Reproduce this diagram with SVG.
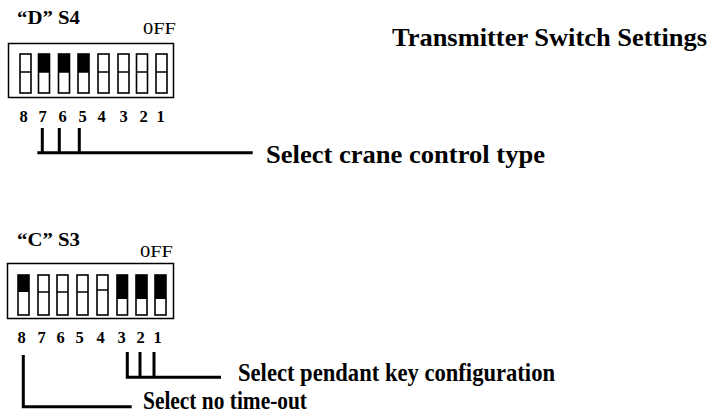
<svg xmlns="http://www.w3.org/2000/svg" width="709" height="418" viewBox="0 0 709 418">
<style>
.bg{fill:#fff}
.box{fill:#fff;stroke:#000;stroke-width:1.5}
.sw{fill:#fff;stroke:#000;stroke-width:1.6}
.dv{stroke:#000;stroke-width:1.5}
.on{fill:#000}
.t{font-family:"Liberation Serif","Times New Roman",serif;fill:#000}
.b{font-weight:bold}
.lbl{font-family:"Liberation Serif","Times New Roman",serif;font-weight:bold;font-size:16.5px;fill:#000}
.br{fill:none;stroke:#000;stroke-width:3}
</style>
<rect class="bg" x="0" y="0" width="709" height="418"/>
<text class="t b" x="392" y="46" font-size="26" textLength="315" lengthAdjust="spacingAndGlyphs">Transmitter Switch Settings</text>

<g id="switch-d-s4">
  <text class="t b" x="17" y="24" font-size="18" textLength="63" lengthAdjust="spacingAndGlyphs">“D” S4</text>
  <text class="t" x="143" y="34" font-size="17" textLength="33" lengthAdjust="spacingAndGlyphs">0FF</text>
  <rect class="box" x="8.5" y="43.5" width="165" height="54"/>
  <g>
    <rect class="sw" x="20" y="54" width="11" height="39"/><line class="dv" x1="20" y1="72" x2="31" y2="72"/>
    <rect class="sw" x="38.5" y="54" width="11" height="39"/><rect class="on" x="38.5" y="54" width="11" height="18"/><line class="dv" x1="38.5" y1="72" x2="49.5" y2="72"/>
    <rect class="sw" x="58.5" y="54" width="11" height="39"/><rect class="on" x="58.5" y="54" width="11" height="18"/><line class="dv" x1="58.5" y1="72" x2="69.5" y2="72"/>
    <rect class="sw" x="78" y="54" width="11" height="39"/><rect class="on" x="78" y="54" width="11" height="18"/><line class="dv" x1="78" y1="72" x2="89" y2="72"/>
    <rect class="sw" x="98" y="54" width="11" height="39"/><line class="dv" x1="98" y1="72" x2="109" y2="72"/>
    <rect class="sw" x="118" y="54" width="11" height="39"/><line class="dv" x1="118" y1="72" x2="129" y2="72"/>
    <rect class="sw" x="136.5" y="54" width="11" height="39"/><line class="dv" x1="136.5" y1="72" x2="147.5" y2="72"/>
    <rect class="sw" x="156" y="54" width="11" height="39"/><line class="dv" x1="156" y1="72" x2="167" y2="72"/>
  </g>
  <text class="lbl" x="19.5" y="122">8</text>
  <text class="lbl" x="38.5" y="122">7</text>
  <text class="lbl" x="58.5" y="122">6</text>
  <text class="lbl" x="78.5" y="122">5</text>
  <text class="lbl" x="97.5" y="122">4</text>
  <text class="lbl" x="119.5" y="122">3</text>
  <text class="lbl" x="139.5" y="122">2</text>
  <text class="lbl" x="156.5" y="122">1</text>
</g>

<g id="label-crane">
  <text class="t b" x="266" y="163" font-size="26" textLength="279" lengthAdjust="spacingAndGlyphs">Select crane control type</text>
</g>

<g id="switch-c-s3">
  <text class="t b" x="17" y="246" font-size="18" textLength="63" lengthAdjust="spacingAndGlyphs">“C” S3</text>
  <text class="t" x="140" y="257" font-size="17" textLength="33" lengthAdjust="spacingAndGlyphs">0FF</text>
  <rect class="box" x="7.5" y="263.5" width="166" height="55"/>
  <g>
    <rect class="sw" x="18" y="275" width="11" height="40"/><rect class="on" x="18" y="275" width="11" height="17"/>
    <rect class="sw" x="38" y="275" width="11" height="40"/><line class="dv" x1="38" y1="292" x2="49" y2="292"/>
    <rect class="sw" x="57" y="275" width="11" height="40"/><line class="dv" x1="57" y1="292" x2="68" y2="292"/>
    <rect class="sw" x="77" y="275" width="11" height="40"/><line class="dv" x1="77" y1="292" x2="88" y2="292"/>
    <rect class="sw" x="97" y="275" width="11" height="40"/><line class="dv" x1="97" y1="290" x2="108" y2="290"/>
    <rect class="sw" x="117" y="275" width="10.5" height="40"/><rect class="on" x="117" y="275" width="10.5" height="24"/>
    <rect class="sw" x="136" y="275" width="11" height="40"/><rect class="on" x="136" y="275" width="11" height="24"/>
    <rect class="sw" x="155" y="275" width="11" height="40"/><rect class="on" x="155" y="275" width="11" height="24"/>
  </g>
  <text class="lbl" x="17.5" y="343">8</text>
  <text class="lbl" x="37.5" y="343">7</text>
  <text class="lbl" x="56.5" y="343">6</text>
  <text class="lbl" x="75.5" y="343">5</text>
  <text class="lbl" x="96.5" y="343">4</text>
  <text class="lbl" x="117.5" y="343">3</text>
  <text class="lbl" x="136.5" y="343">2</text>
  <text class="lbl" x="153.5" y="343">1</text>
</g>

<g id="label-pendant">
  <text class="t b" x="238" y="381" font-size="25" textLength="317" lengthAdjust="spacingAndGlyphs">Select pendant key configuration</text>
</g>
<g id="label-timeout">
  <text class="t b" x="143" y="409" font-size="25" textLength="164" lengthAdjust="spacingAndGlyphs">Select no time-out</text>
</g>

<g id="connectors">
  <path class="br" d="M42.3,128 V152.7 M59.3,128 V152.7 M79.3,128 V152.7 M37.3,152.7 H252.7"/>
  <path class="br" d="M127.3,352 V377.3 M140,352 V377.3 M154,352 V377.3 M125.8,377.3 H221"/>
  <path class="br" d="M23.3,355 V406.7 H131.7"/>
</g>
</svg>
